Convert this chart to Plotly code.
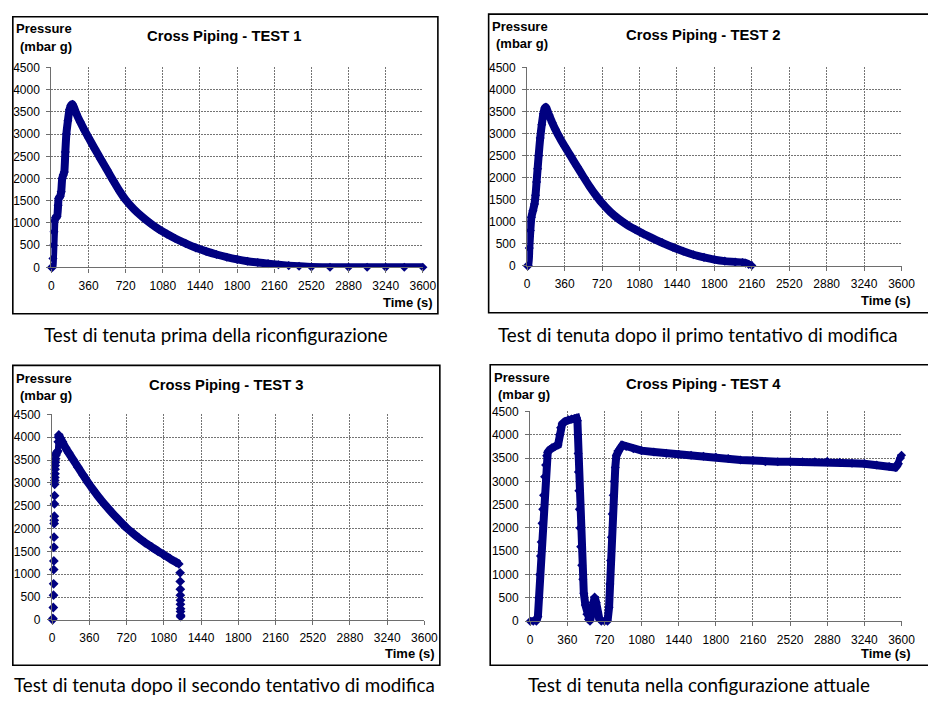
import plotly.graph_objects as go

W, H = 928, 702

# ---------------- data ----------------
X_TICKS = [0, 360, 720, 1080, 1440, 1800, 2160, 2520, 2880, 3240, 3600]
Y_TICKS = [0, 500, 1000, 1500, 2000, 2500, 3000, 3500, 4000, 4500]

TITLES = ["Cross Piping - TEST 1", "Cross Piping - TEST 2",
          "Cross Piping - TEST 3", "Cross Piping - TEST 4"]
CAPTIONS = ["Test di tenuta prima della riconfigurazione",
            "Test di tenuta dopo il primo tentativo di modifica",
            "Test di tenuta dopo il secondo tentativo di modifica",
            "Test di tenuta nella configurazione attuale"]
Y_LABEL_1 = "Pressure"
Y_LABEL_2 = "(mbar g)"
X_LABEL = "Time (s)"

# TEST 1
t1 = [0, 10, 15, 20, 25, 30, 40, 55, 65, 70, 85, 95, 105, 115, 125, 135, 145, 160, 175, 190, 205,
      240, 280, 320, 360, 420, 480, 540, 600, 660, 720, 800, 880, 960, 1040, 1120, 1200, 1300,
      1400, 1500, 1600, 1700, 1800, 1900, 2000, 2100, 2200, 2300, 2400, 2520, 2700, 2880, 3060,
      3240, 3420, 3600]
p1 = [0, 0, 200, 500, 800, 1050, 1120, 1150, 1400, 1550, 1600, 1700, 2000, 2080, 2150, 2600, 3000,
      3300, 3550, 3650, 3670,
      3470, 3270, 3090, 2920, 2670, 2430, 2190, 1950, 1720, 1520, 1310, 1140, 990, 860, 750, 650,
      540, 440, 360, 290, 230, 180, 140, 110, 85, 60, 40, 25, 10, 5, 3, 2, 2, 2, 2]

# TEST 2
t2 = [0, 10, 20, 30, 40, 55, 70, 80, 90, 100, 110, 125, 140, 155, 170, 180,
      210, 240, 270, 300, 360, 420, 480, 540, 600, 660, 720, 800, 880, 960, 1040, 1120, 1200,
      1300, 1400, 1500, 1600, 1700, 1800, 1900, 2000, 2070, 2100, 2130, 2160]
p2 = [0, 0, 400, 800, 1100, 1250, 1400, 1600, 1900, 2200, 2500, 2900, 3200, 3450, 3580, 3600,
      3420, 3250, 3100, 2960, 2710, 2480, 2250, 2020, 1800, 1600, 1420, 1220, 1060, 930, 820, 720,
      630, 520, 420, 330, 250, 190, 140, 105, 85, 75, 60, 30, 5]

# TEST 3
t3 = [5, 8, 12, 14, 15, 16, 17, 18, 19, 20, 21, 22, 23, 24, 25, 26, 27, 28, 29, 30, 32, 34, 36,
      40, 45, 50, 55, 60, 62, 65,
      80, 100, 130, 160, 200, 250, 300, 350, 400, 450, 500, 560, 620, 680, 720, 780, 840, 900,
      960, 1020, 1080, 1140, 1200, 1225,
      1238, 1239, 1240, 1240, 1241, 1241, 1242, 1242, 1243, 1243]
p3 = [0, 30, 270, 540, 790, 1100, 1290, 1590, 1810, 2110, 2180, 2270, 2540, 2720, 2970, 3050,
      3120, 3200, 3300, 3380, 3450, 3530, 3600, 3630, 3660, 3680, 3700, 3900, 4000, 4050,
      3980, 3900, 3770, 3660, 3520, 3345, 3170, 3000, 2840, 2690, 2550, 2395, 2245, 2105, 2015,
      1900, 1790, 1690, 1600, 1510, 1425, 1340, 1260, 1225,
      1030, 840, 670, 540, 430, 340, 240, 180, 100, 70]

# TEST 4
t4 = [0, 30, 60, 75, 85, 92, 100, 107, 115, 122, 130, 140, 150, 160, 170, 190, 210, 240, 270,
      285, 295, 310, 340, 370, 400, 430, 450, 458, 462, 465, 468, 472, 477, 483, 490, 500, 510,
      520, 535, 550, 565, 580, 595, 610, 625, 640, 655, 670, 690, 720, 750, 765, 772, 780, 787,
      795, 805, 815, 825, 835, 850, 870, 895, 930, 1000, 1080, 1200, 1320, 1440, 1560, 1680,
      1800, 1920, 2040, 2160, 2280, 2400, 2520, 2640, 2760, 2880, 3000, 3120, 3240, 3360, 3480,
      3540, 3570, 3590, 3600]
p4 = [0, 0, 0, 100, 500, 1000, 1400, 1700, 2100, 2400, 2700, 3100, 3350, 3550, 3620, 3680, 3720,
      3750, 3780, 4000, 4150, 4230, 4290, 4320, 4340, 4350, 4360, 4300, 4000, 3600, 3200, 2800,
      2400, 2000, 1600, 1200, 900, 600, 350, 150, 40, 0, 150, 400, 520, 400, 200, 50, 0, 0, 0,
      300, 800, 1300, 1800, 2300, 2700, 3000, 3300, 3550, 3650, 3700, 3780, 3750, 3700, 3660,
      3630, 3600, 3580, 3560, 3540, 3520, 3490, 3460, 3450, 3420, 3420, 3420, 3420, 3420, 3430,
      3410, 3390, 3380, 3350, 3320, 3300, 3380, 3500, 3560]

SERIES = [(t1, p1), (t2, p2), (t3, p3), (t4, p4)]

# ---------------- layout geometry (pixels) ----------------
PANELS = [
    dict(plot=(49.3, 427.7, 61.7, 265.7), box=(10, 443, 10, 313), title=(226, 30),
         yl1=(41.7, 22), yl2=(43.7, 40), xlab=(440, 301.7), cap=(216.5, 334)),
    dict(plot=(534, 915.3, 61.7, 264), box=(494.7, 945, 7.3, 312), title=(713.3, 28.3),
         yl1=(526.3, 20), yl2=(528.3, 37.7), xlab=(927.3, 299.3), cap=(707.5, 334)),
    dict(plot=(50, 429.3, 415.7, 625.3), box=(10, 445, 365.7, 671.7), title=(227.5, 385.7),
         yl1=(41.7, 379), yl2=(43.7, 396), xlab=(441.7, 660), cap=(225.7, 691.5)),
    dict(plot=(537, 915.3, 412.7, 626.7), box=(496.3, 945, 365, 671.7), title=(713.8, 385),
         yl1=(528.5, 377.7), yl2=(530.5, 395.7), xlab=(927.3, 660), cap=(708.7, 691.5)),
]

NAVY = "#000080"
FONT = "Liberation Sans, Arial, sans-serif"
CAP_FONT = "Lato, Open Sans, sans-serif"


def fx(px):
    return px / W


def fy(py):
    return 1 - py / H


fig = go.Figure()
layout = dict(width=W, height=H, margin=dict(l=0, r=0, t=0, b=0),
              paper_bgcolor="white", plot_bgcolor="white", showlegend=False)
annotations = []
shapes = []

for i, (pan, (t, p)) in enumerate(zip(PANELS, SERIES)):
    n = "" if i == 0 else str(i + 1)
    xa, ya = "x" + n, "y" + n
    x0, x1, y0, y1 = pan["plot"]
    axis_common = dict(showgrid=True, gridcolor="#747474", griddash="2px,1px", gridwidth=1,
                       showline=True, linecolor="#6e6e6e", linewidth=1.3, ticks="outside",
                       ticklen=4, tickcolor="#6e6e6e", zeroline=False, fixedrange=True,
                       tickfont=dict(family=FONT, size=12, color="black"))
    layout["xaxis" + n] = dict(domain=[fx(x0), fx(x1)], range=[0, 3600], tickvals=X_TICKS,
                               anchor=ya, ticklabelstandoff=3, **axis_common)
    layout["yaxis" + n] = dict(domain=[fy(y1), fy(y0)], range=[0, 4500], tickvals=Y_TICKS,
                               anchor=xa, ticklabelstandoff=4, **axis_common)

    if i == 2:
        k0 = p.index(max(p))
        k1 = max(j for j in range(len(t)) if t[j] <= 1225)
        fig.add_trace(go.Scatter(x=t[k0:k1 + 1], y=p[k0:k1 + 1], mode="lines",
                                 line=dict(color=NAVY, width=8, shape="spline", smoothing=0.6),
                                 xaxis=xa, yaxis=ya, cliponaxis=False, hoverinfo="skip"))
        fig.add_trace(go.Scatter(x=t[k0 - 8:k0 + 1], y=p[k0 - 8:k0 + 1], mode="lines",
                                 line=dict(color=NAVY, width=6), xaxis=xa, yaxis=ya,
                                 cliponaxis=False, hoverinfo="skip"))
        fig.add_trace(go.Scatter(x=t, y=p, mode="markers",
                                 marker=dict(symbol="diamond", size=7.5, color=NAVY),
                                 xaxis=xa, yaxis=ya, cliponaxis=False))
    else:
        shape = "linear" if i == 3 else "spline"
        fig.add_trace(go.Scatter(x=t, y=p, mode="lines+markers",
                                 line=dict(color=NAVY, width=8, shape=shape, smoothing=0.6),
                                 marker=dict(symbol="diamond", size=7, color=NAVY),
                                 xaxis=xa, yaxis=ya, cliponaxis=False))

    bx0, bx1, by0, by1 = pan["box"]
    shapes.append(dict(type="rect", xref="paper", yref="paper", x0=fx(bx0), x1=fx(bx1),
                       y0=fy(by1), y1=fy(by0), line=dict(color="black", width=1.6),
                       fillcolor="rgba(0,0,0,0)", layer="above"))

    annotations.append(dict(text="<b>%s</b>" % TITLES[i], x=fx(pan["title"][0]),
                            y=fy(pan["title"][1]), xref="paper", yref="paper",
                            xanchor="center", yanchor="middle", showarrow=False,
                            font=dict(family=FONT, size=14.8, color="black")))
    annotations.append(dict(text="<b>%s</b>" % Y_LABEL_1, x=fx(pan["yl1"][0]),
                            y=fy(pan["yl1"][1]), xref="paper", yref="paper",
                            xanchor="center", yanchor="middle", showarrow=False,
                            font=dict(family=FONT, size=13, color="black")))
    annotations.append(dict(text="<b>%s</b>" % Y_LABEL_2, x=fx(pan["yl2"][0]),
                            y=fy(pan["yl2"][1]), xref="paper", yref="paper",
                            xanchor="center", yanchor="middle", showarrow=False,
                            font=dict(family=FONT, size=13, color="black")))
    annotations.append(dict(text="<b>%s</b>" % X_LABEL, x=fx(pan["xlab"][0]),
                            y=fy(pan["xlab"][1]), xref="paper", yref="paper",
                            xanchor="right", yanchor="middle", showarrow=False,
                            font=dict(family=FONT, size=13, color="black")))
    annotations.append(dict(text=CAPTIONS[i], x=fx(pan["cap"][0]), y=fy(pan["cap"][1]),
                            xref="paper", yref="paper", xanchor="center", yanchor="middle",
                            showarrow=False,
                            font=dict(family=CAP_FONT, size=18.8, color="black")))

layout["annotations"] = annotations
layout["shapes"] = shapes
fig.update_layout(**layout)
fig.write_html("out.html", config={"displayModeBar": False},
               post_script="document.body.style.margin='0';"
                           "document.body.style.overflow='hidden';")
